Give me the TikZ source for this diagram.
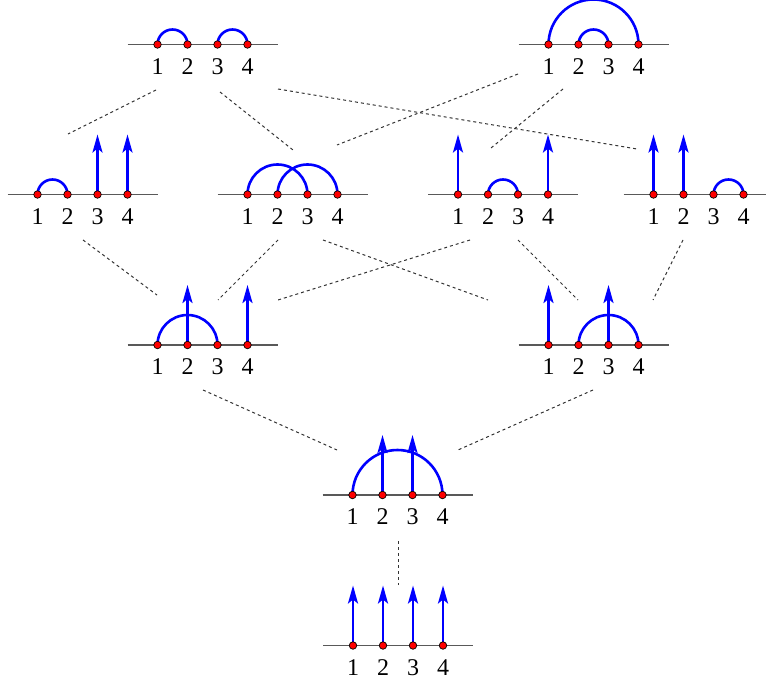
\documentclass[tikz,border=0pt]{standalone}
\usepackage{fontspec}
\setmainfont{Liberation Serif}
\usetikzlibrary{arrows.meta}
\tikzset{
  axisline/.style={draw=black!65, line width=1.6pt},
  arcline/.style={draw=blue, line width=2.6pt},
  arrline/.style={draw=blue, line width=2.6pt, -{Stealth[length=18pt,width=10pt,inset=4pt]}},
  dotnode/.style={circle, fill=red, draw=black, line width=0.7pt, minimum size=7.5pt, inner sep=0pt},
  lab/.style={inner sep=0pt, font=\fontsize{24}{28}\selectfont},
  conn/.style={draw=black!80, line width=1pt, dash pattern=on 3pt off 3pt},
}
\newcommand\baseaxis[3]{% name, x1, y
  \draw[axisline] (#2-30,#3) -- (#2+120,#3);
  \foreach \k in {1,...,4} {\node[lab] (#1-l\k) at ({#2+30*(\k-1)},#3+22) {\k};}
}
\newcommand\arcc[4]{% x1, y, i, radius
  \draw[arcline] ({#1+30*(#3-1)},#2) arc[start angle=180,end angle=0,radius=#4pt];
}
\newcommand\upar[3]{% x1, y, i
  \draw[arrline] ({#1+30*(#3-1)},#2) -- ++(0,-60);
}
\newcommand\putdots[3]{% name, x1, y
  \foreach \k in {1,...,4} {\node[dotnode] (#1-d\k) at ({#2+30*(\k-1)},#3) {};}
}
\begin{document}
\begin{tikzpicture}[x=1pt,y=-1pt]
\useasboundingbox (0,0) rectangle (766,682);
% A
\baseaxis{A}{157.5}{44.5}
\arcc{157.5}{44.5}{1}{15}\arcc{157.5}{44.5}{3}{15}
\putdots{A}{157.5}{44.5}
% B
\baseaxis{B}{548.5}{44.5}
\arcc{548.5}{44.5}{1}{45}\arcc{548.5}{44.5}{2}{15}
\putdots{B}{548.5}{44.5}
% C
\baseaxis{C}{37.5}{194.5}
\arcc{37.5}{194.5}{1}{15}\upar{37.5}{194.5}{3}\upar{37.5}{194.5}{4}
\putdots{C}{37.5}{194.5}
% D
\baseaxis{D}{247.5}{194.5}
\arcc{247.5}{194.5}{1}{30}\arcc{247.5}{194.5}{2}{30}
\putdots{D}{247.5}{194.5}
% E
\baseaxis{E}{458}{194.5}
\upar{458}{194.5}{1}\arcc{458}{194.5}{2}{15}\upar{458}{194.5}{4}
\putdots{E}{458}{194.5}
% F
\baseaxis{F}{653.5}{194.5}
\upar{653.5}{194.5}{1}\upar{653.5}{194.5}{2}\arcc{653.5}{194.5}{3}{15}
\putdots{F}{653.5}{194.5}
% G
\baseaxis{G}{157.5}{345}
\arcc{157.5}{345}{1}{30}\upar{157.5}{345}{2}\upar{157.5}{345}{4}
\putdots{G}{157.5}{345}
% H
\baseaxis{H}{548.5}{345}
\upar{548.5}{345}{1}\arcc{548.5}{345}{2}{30}\upar{548.5}{345}{3}
\putdots{H}{548.5}{345}
% I
\baseaxis{I}{352.5}{495}
\arcc{352.5}{495}{1}{45}\upar{352.5}{495}{2}\upar{352.5}{495}{3}
\putdots{I}{352.5}{495}
% J
\baseaxis{J}{353}{645.5}
\upar{353}{645.5}{1}\upar{353}{645.5}{2}\upar{353}{645.5}{3}\upar{353}{645.5}{4}
\putdots{J}{353}{645.5}
% connector ends
\coordinate (a1) at (156,90);
\coordinate (a2) at (220,92);
\coordinate (a3) at (278,89);
\coordinate (b1) at (518,74);
\coordinate (b2) at (563,89);
\coordinate (c0) at (68,134);
\coordinate (c1) at (83,240);
\coordinate (d0) at (293,150);
\coordinate (d3) at (337,145);
\coordinate (d1) at (278,240);
\coordinate (d2) at (323,240);
\coordinate (e0) at (491,148);
\coordinate (e1) at (470,240);
\coordinate (e2) at (518,240);
\coordinate (f0) at (637,149);
\coordinate (f1) at (683,240);
\coordinate (g0) at (157,295);
\coordinate (g1) at (218,300);
\coordinate (g2) at (278,300);
\coordinate (g3) at (203,390);
\coordinate (h0) at (488,300);
\coordinate (h1) at (578,300);
\coordinate (h2) at (653,300);
\coordinate (h3) at (593,390);
\coordinate (i0) at (337,450);
\coordinate (i1) at (458,450);
\coordinate (i2) at (398,541);
\coordinate (j0) at (398,585);
% connectors
\draw[conn] (a1) -- (c0);
\draw[conn] (a2) -- (d0);
\draw[conn] (a3) -- (f0);
\draw[conn] (b1) -- (d3);
\draw[conn] (b2) -- (e0);
\draw[conn] (c1) -- (g0);
\draw[conn] (d1) -- (g1);
\draw[conn] (e1) -- (g2);
\draw[conn] (d2) -- (h0);
\draw[conn] (e2) -- (h1);
\draw[conn] (f1) -- (h2);
\draw[conn] (g3) -- (i0);
\draw[conn] (h3) -- (i1);
\draw[conn] (i2) -- (j0);
\end{tikzpicture}
\end{document}
